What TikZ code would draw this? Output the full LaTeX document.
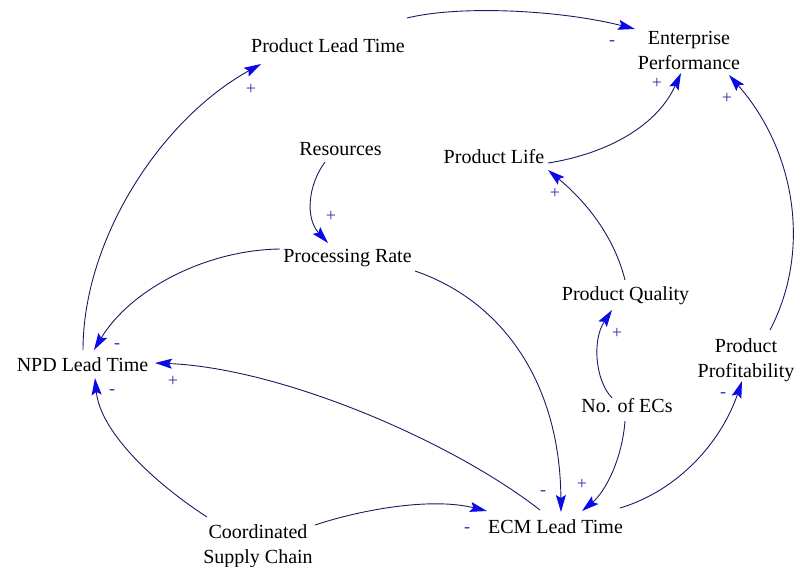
\documentclass[tikz,border=0pt]{standalone}
\usepackage{fontspec}
\setmainfont{Liberation Serif}
\usetikzlibrary{arrows.meta}
\definecolor{linknavy}{RGB}{25,25,100}
\definecolor{tipblue}{RGB}{10,10,230}
\definecolor{signblue}{RGB}{45,45,170}
\tikzset{
  var/.style={inner sep=0pt, align=center, font=\fontsize{20}{25}\selectfont, text=black},
  link/.style={draw=linknavy, line width=0.9pt, -{Stealth[length=17pt,width=10pt,inset=3pt,color=tipblue]}},
  sign/.style={inner sep=0pt, text=signblue, font=\fontsize{18}{18}\selectfont}
}
\begin{document}
\begin{tikzpicture}[x=1pt,y=-1pt]
\useasboundingbox (0,0) rectangle (798,566);
% variables
\node[var,anchor=base] (plt) at (328,52) {Product Lead Time};
\node[var] (ep) at (689,50.5) {Enterprise\\Performance};
\node[var,anchor=base] (res) at (340.5,155) {Resources};
\node[var,anchor=base] (pl) at (494,163) {Product Life};
\node[var,anchor=base] (pr) at (347.5,262) {Processing Rate};
\node[var,anchor=base] (pq) at (625.5,300) {Product Quality};
\node[var,anchor=base] (npd) at (82.5,371) {NPD Lead Time};
\node[var] (pp) at (746,359.8) {Product\\Profitability};
\node[var,anchor=base] (noec) at (627,412) {No. of ECs};
\node[var,anchor=base] (ecm) at (555.5,533) {ECM Lead Time};
\node[var] (csc) at (258,545.8) {Coordinated\\Supply Chain};
% connectors
\draw[link] ([shift={(0.5,-21)}]npd.base) .. controls (83,240) and (160,120) .. ([shift={(-67,12)}]plt.base);
\draw[link] ([shift={(79,-34)}]plt.base) .. controls (460,5) and (560,10) .. ([shift={(-54,-21.5)}]ep.center);
\draw[link] ([shift={(-15.5,7)}]res.base) .. controls (308,185) and (305,218) .. ([shift={(-19.5,-19)}]pr.base);
\draw[link] ([shift={(-67.5,-13)}]pr.base) .. controls (205,250) and (130,290) .. ([shift={(11.5,-21)}]npd.base);
\draw[link] ([shift={(67.5,9)}]pr.base) .. controls (500,300) and (560,380) .. ([shift={(5.5,-21)}]ecm.base);
\draw[link] ([shift={(-15.5,-23)}]ecm.base) .. controls (450,440) and (280,368) .. ([shift={(72.5,-8)}]npd.base);
\draw[link] ([shift={(-51,-28.8)}]csc.center) .. controls (150,480) and (100,430) .. ([shift={(12.5,7)}]npd.base);
\draw[link] ([shift={(57,-20.8)}]csc.center) .. controls (360,510) and (430,497) .. ([shift={(-68.5,-22)}]ecm.base);
\draw[link] ([shift={(-2,9)}]noec.base) .. controls (622,460) and (605,492) .. ([shift={(26.5,-22)}]ecm.base);
\draw[link] ([shift={(-15,-14)}]noec.base) .. controls (595,380) and (592,340) .. ([shift={(-13.5,10)}]pq.base);
\draw[link] ([shift={(-0.5,-20)}]pq.base) .. controls (615,240) and (590,205) .. ([shift={(54,7)}]pl.base);
\draw[link] ([shift={(54,0)}]pl.base) .. controls (600,155) and (655,130) .. ([shift={(-8,22.5)}]ep.center);
\draw[link] ([shift={(24,-29.8)}]pp.center) .. controls (812,250) and (795,150) .. ([shift={(40,24.5)}]ep.center);
\draw[link] ([shift={(64.5,-25)}]ecm.base) .. controls (680,490) and (722,440) .. ([shift={(-4,21.2)}]pp.center);
% polarity signs
\node[sign] (s1) at (251,89) {+};
\node[sign] (s2) at (612,43) {-};
\node[sign] (s3) at (331,216) {+};
\node[sign] (s4) at (117,346) {-};
\node[sign] (s5) at (543,493) {-};
\node[sign] (s6) at (173,381) {+};
\node[sign] (s7) at (112,392) {-};
\node[sign] (s8) at (467,530) {-};
\node[sign] (s9) at (582,484) {+};
\node[sign] (s10) at (617,333) {+};
\node[sign] (s11) at (555,193) {+};
\node[sign] (s12) at (657,83) {+};
\node[sign] (s13) at (727,98) {+};
\node[sign] (s14) at (723,395) {-};
\end{tikzpicture}
\end{document}
